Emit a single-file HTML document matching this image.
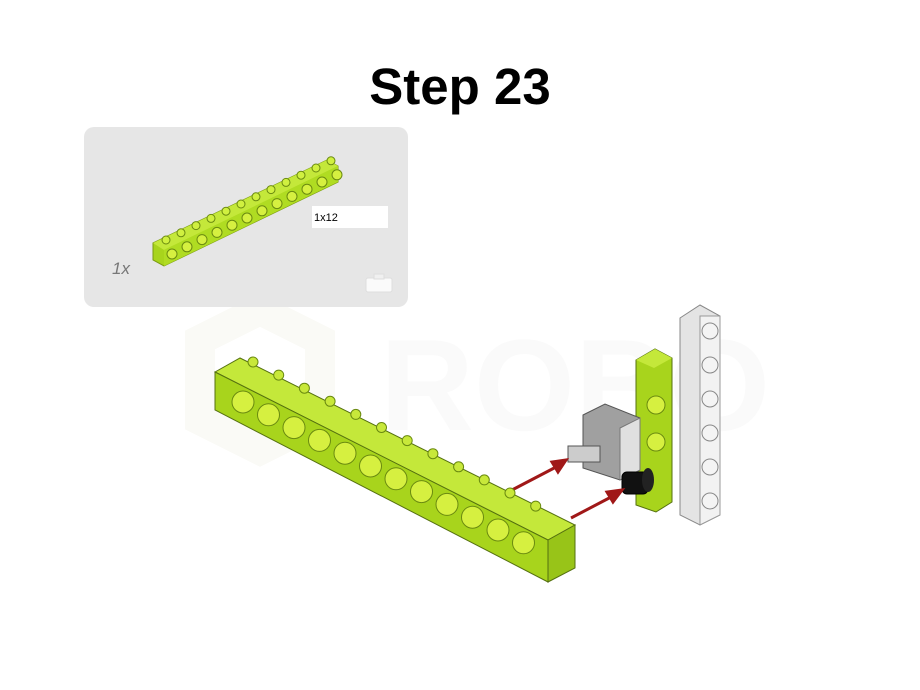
<!DOCTYPE html>
<html><head><meta charset="utf-8"><style>
html,body{margin:0;padding:0;background:#fff;}
#wrap{position:relative;width:920px;height:690px;overflow:hidden;font-family:"Liberation Sans",sans-serif;}
#title{position:absolute;left:0;width:920px;top:58px;text-align:center;font-weight:bold;font-size:51px;line-height:58px;color:#000;}
</style></head><body>
<div id="wrap">
<div id="title">Step 23</div>
<svg width="920" height="690" style="position:absolute;left:0;top:0">
 <g fill="none" stroke="#fafaf6" stroke-width="30">
  <polygon points="200,340 260,310 320,340 320,420 260,450 200,420"/>
  <text x="380" y="430" font-size="130" font-weight="bold" fill="#fafafa" stroke="none" font-family="Liberation Sans">ROBO</text>
 </g>
 <g>
  <rect x="84" y="127" width="324" height="180" rx="10" fill="#e6e6e6"/>
  <polygon points="153,243 327,160 338,166 338,182 164,266 153,260" fill="#a8d41c" stroke="#7a9a10" stroke-width="1"/>
  <polygon points="153,243 327,160 338,166 164,250" fill="#c4e83a"/>
  <polygon points="164,250 338,166 338,182 164,266" fill="#b0dc22"/>
  <g id="smallholes"></g>
  <rect x="312" y="206" width="76" height="22" fill="#fff"/>
  <text x="314" y="221" font-size="11" fill="#000">1x12</text>
  <text x="112" y="274" font-size="17" font-style="italic" fill="#777">1x</text>
  <rect x="366" y="278" width="26" height="14" rx="2" fill="#fafafa" stroke="#ddd"/>
  <rect x="374" y="274" width="10" height="5" fill="#f0f0f0" stroke="#ddd"/>
 </g>
 <g>
  <polygon points="680,318 700,305 720,316 720,515 700,525 680,515" fill="#e4e4e4" stroke="#888"/>
  <polygon points="700,316 720,316 720,515 700,525" fill="#f2f2f2" stroke="#999"/>
  <g id="studs"></g>
 </g>
 <g>
  <polygon points="636,360 655,349 672,358 672,502 656,512 636,505" fill="#a8d41c" stroke="#557010"/>
  <polygon points="636,360 655,349 672,358 654,368" fill="#c4e83a"/>
  <circle cx="656" cy="405" r="9" fill="#d6f040" stroke="#6a8a10"/>
  <circle cx="656" cy="442" r="9" fill="#d6f040" stroke="#6a8a10"/>
 </g>
 <g>
  <polygon points="583,415 605,404 640,418 640,470 620,480 583,468" fill="#a0a0a0" stroke="#555"/>
  <polygon points="620,428 640,418 640,470 620,480" fill="#e0e0e0" stroke="#777"/>
  <rect x="568" y="446" width="32" height="16" fill="#ccc" stroke="#555"/>
 </g>
 <g>
  <rect x="622" y="472" width="26" height="22" rx="5" fill="#111" stroke="#000"/>
  <ellipse cx="648" cy="480" rx="6" ry="12" fill="#222"/>
 </g>
 <g stroke="#a01818" stroke-width="3" fill="#a01818">
  <line x1="512" y1="490" x2="558" y2="466"/><polygon points="566,460 552,462 558,472"/>
  <line x1="571" y1="518" x2="613" y2="496"/><polygon points="622,490 607,492 613,502"/>
 </g>
 <g>
  <polygon points="215,372 240,358 575,525 548,540" fill="#c4e83a" stroke="#557010"/>
  <polygon points="215,372 548,540 548,582 215,410" fill="#a8d41c" stroke="#557010"/>
  <polygon points="548,540 575,525 575,568 548,582" fill="#98c418" stroke="#557010"/>
  <g id="bigholes"></g>
 </g>
</svg>
</div>
<script>
var ns="http://www.w3.org/2000/svg";
function c(p,cx,cy,r,f){var e=document.createElementNS(ns,"circle");e.setAttribute("cx",cx);e.setAttribute("cy",cy);e.setAttribute("r",r);e.setAttribute("fill",f);e.setAttribute("stroke","#6a8a10");p.appendChild(e);return e;}
var g=document.getElementById("bigholes");
for(var i=0;i<12;i++){var x=243+i*25.5,y=402+i*12.8;
var h=c(g,x,y,11,"#d6f040");


c(g,x+10+i*0.2,y-40+i*0.3,5,"#c8e83a");}
var s=document.getElementById("smallholes");
for(var i=0;i<12;i++){var x=172+i*15,y=254-i*7.2;c(s,x,y,5,"#d6f040");c(s,x-6,y-14,4,"#d0f040");}
var st=document.getElementById("studs");
for(var i=0;i<6;i++){var e=c(st,710,331+i*34,8,"#f4f4f4");e.setAttribute("stroke","#888");}
</script>
</body></html>
